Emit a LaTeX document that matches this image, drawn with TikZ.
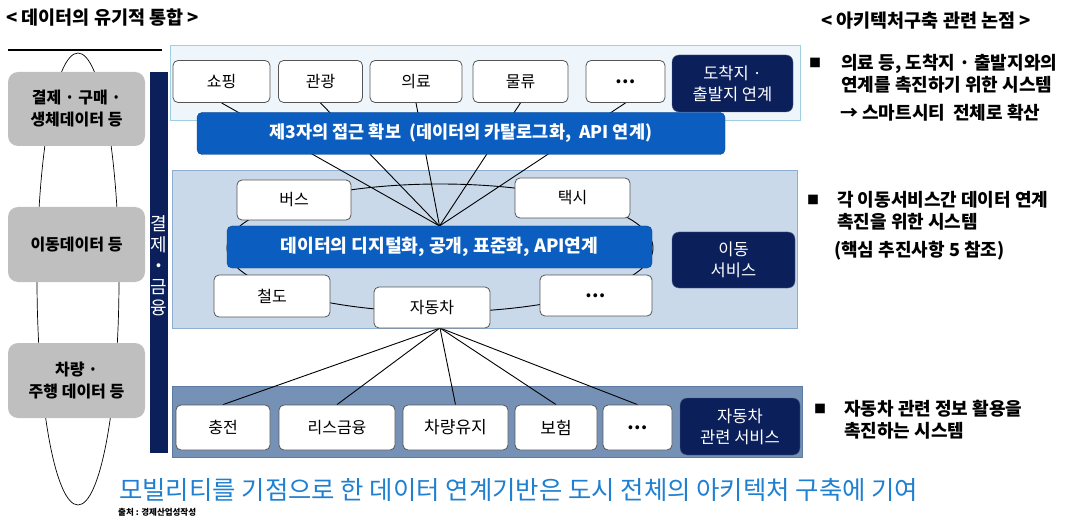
\documentclass[tikz,border=0pt]{standalone}
\usepackage{fontspec}
\setmainfont{Noto Sans CJK KR}
\pgfdeclarelayer{bands}
\pgfdeclarelayer{links}
\pgfsetlayers{bands,links,main}
\definecolor{navy}{HTML}{0B1F5B}
\definecolor{barblue}{HTML}{0B5EBF}
\definecolor{barline}{HTML}{0A3F88}
\definecolor{topband}{HTML}{EEF6FB}
\definecolor{topbandline}{HTML}{9FCFE0}
\definecolor{midband}{HTML}{C9D9EA}
\definecolor{midbandline}{HTML}{8FAFD0}
\definecolor{lowband}{HTML}{7592B6}
\definecolor{lowbandline}{HTML}{5C7AA2}
\definecolor{graybox}{HTML}{BFBFBF}
\definecolor{capblue}{HTML}{1F7FD0}
\definecolor{boxline}{HTML}{555555}
\tikzset{
  wbox/.style={draw=boxline, fill=white, rounded corners=5pt, line width=0.8pt, inner sep=0pt,
    font=\fontsize{16}{19}\selectfont},
  darkbox/.style={fill=navy, draw=navy!70!white, rounded corners=7pt, inner sep=0pt, text=white,
    align=center, font=\fontsize{16.5}{21}\selectfont},
  bluebar/.style={fill=barblue, draw=barline, rounded corners=5pt, inner sep=0pt, text=white,
    font=\bfseries\fontsize{17.5}{20}\selectfont},
  grbox/.style={fill=graybox, draw=none, rounded corners=10pt, inner sep=0pt, align=center,
    font=\bfseries\fontsize{16}{22}\selectfont},
  link/.style={draw=black, line width=0.9pt},
  note/.style={anchor=west, align=left, inner sep=0pt, font=\bfseries\fontsize{18}{22}\selectfont},
  bullet/.style={anchor=west, inner sep=0pt, font=\fontsize{12}{14}\selectfont},
  dotstxt/.style={font=\bfseries\fontsize{18}{19}\selectfont},
}
\begin{document}
\begin{tikzpicture}[x=1pt,y=-1pt]
\useasboundingbox (0,0) rectangle (1067,521);

% titles
\node[inner sep=0pt, anchor=west, font=\bfseries\fontsize{18.5}{20}\selectfont] (title1) at (6,18) {<\ 데이터의 유기적 통합 >};
\node[inner sep=0pt, font=\bfseries\fontsize{18.5}{20}\selectfont] (title2) at (926,21) {< 아키텍처구축 관련 논점 >};
\coordinate (hl1) at (8,50);
\coordinate (hl2) at (162,50);
\draw[line width=1.4pt] (hl1) -- (hl2);

% left data boxes and ellipse
\node[grbox, minimum width=137pt, minimum height=74pt] (g1) at (76.5,109) {결제 · 구매 ·\\생체데이터 등};
\node[grbox, minimum width=137pt, minimum height=75pt] (g2) at (76.5,244.5) {이동데이터 등};
\node[grbox, minimum width=137pt, minimum height=75pt] (g3) at (76.5,380.5) {차량 ·\\주행 데이터 등};
\begin{pgfonlayer}{links}
\draw[line width=0.7pt] (78,279) ellipse [x radius=41, y radius=226];
\end{pgfonlayer}

% left vertical bar
\node[fill=navy, minimum width=18pt, minimum height=381pt, inner sep=0pt] (paybar) at (159,262.5) {};
\node[text=white, align=center, inner sep=0pt, font=\fontsize{18}{21}\selectfont] (paytxt) at (159,266) {결\\제\\\textbf{·}\\금\\융};

% bands
\begin{pgfonlayer}{bands}
\draw[fill=topband, draw=topbandline, line width=0.8pt] (170,45) rectangle (800,120);
\draw[fill=midband, draw=midbandline, line width=0.8pt] (172,170) rectangle (797,328);
\draw[fill=lowband, draw=lowbandline, line width=0.8pt] (172,386) rectangle (802,457);
\end{pgfonlayer}

% top row
\node[wbox, minimum width=97pt, minimum height=42pt] (shop) at (221.5,81.5) {쇼핑};
\node[wbox, minimum width=84pt, minimum height=42pt] (tour) at (320.5,81.5) {관광};
\node[wbox, minimum width=92pt, minimum height=42pt] (med) at (416,81.5) {의료};
\node[wbox, minimum width=95pt, minimum height=42pt] (logi) at (520.5,81.5) {물류};
\node[wbox, dotstxt, minimum width=79pt, minimum height=42pt] (dots1) at (625.5,81.5) {…};
\node[darkbox, minimum width=121pt, minimum height=57pt] (arrive) at (732.5,83.5) {도착지 ·\\출발지 연계};
\node[bluebar, minimum width=528pt, minimum height=42pt] (bar1) at (461,133.5) {제3자의 접근 확보 \ (데이터의 카탈로그화, \ API 연계)};

% middle
\node[wbox, minimum width=114pt, minimum height=40pt] (bus) at (294,200) {버스};
\node[wbox, minimum width=115pt, minimum height=40pt] (taxi) at (572.5,198) {택시};
\node[bluebar, font=\bfseries\fontsize{18.2}{20}\selectfont, minimum width=425pt, minimum height=42pt] (bar2) at (439.5,247) {데이터의 디지털화, 공개, 표준화, API연계};
\node[darkbox, minimum width=123pt, minimum height=56pt] (movesvc) at (733.5,260) {이동\\서비스};
\node[wbox, minimum width=116pt, minimum height=42pt] (rail) at (272,296) {철도};
\node[wbox, minimum width=116pt, minimum height=41pt] (car) at (432,307.5) {자동차};
\node[wbox, dotstxt, minimum width=112pt, minimum height=41pt] (dots2) at (596,295.5) {…};

% bottom row
\node[wbox, minimum width=94pt, minimum height=45pt] (charge) at (223,427.5) {충전};
\node[wbox, minimum width=116pt, minimum height=45pt] (lease) at (337,427.5) {리스금융};
\node[wbox, font=\fontsize{17}{19}\selectfont, minimum width=105pt, minimum height=45pt] (maint) at (455.5,427.5) {차량유지};
\node[wbox, font=\fontsize{17}{19}\selectfont, minimum width=82pt, minimum height=45pt] (insur) at (556,427.5) {보험};
\node[wbox, dotstxt, minimum width=69pt, minimum height=45pt] (dots3) at (637.5,427.5) {…};
\node[darkbox, minimum width=120pt, minimum height=57pt] (carsvc) at (740,426.5) {자동차\\관련 서비스};

% connectors
\coordinate (hub) at (439.5,226);
\coordinate (carhub) at (440,328);
\begin{pgfonlayer}{links}
\draw[link] (440,248) ellipse [x radius=213, y radius=64];
\foreach \n in {shop,tour,med,logi,dots1} \draw[link] (\n.south) -- (hub);
\draw[link] (carhub) -- (charge.north);
\draw[link] (carhub) -- (lease.north);
\draw[link] (carhub) -- (maint.north);
\draw[link] (carhub) -- (insur.north);
\draw[link] (carhub) -- (dots3.north);
\end{pgfonlayer}

% right notes
\node[bullet] (b1) at (809,63) {■};
\node[note] (n1) at (841,74) {의료 등, 도착지 · 출발지와의\\연계를 촉진하기 위한 시스템};
\node[note] (n1b) at (840,113) {→ 스마트시티 \ 전체로 확산};
\node[bullet] (b2) at (807,200) {■};
\node[note] (n2) at (837,211) {각 이동서비스간 데이터 연계\\촉진을 위한 시스템};
\node[note] (n2b) at (834,251) {(핵심 추진사항 5 참조)};
\node[bullet] (b3) at (814,409) {■};
\node[note] (n3) at (844,420) {자동차 관련 정보 활용을\\촉진하는 시스템};

% caption
\node[anchor=west, inner sep=0pt, text=capblue, font=\fontsize{25.4}{28}\selectfont] (cap) at (119,490) {모빌리티를 기점으로 한 데이터 연계기반은 도시 전체의 아키텍처 구축에 기여};
\node[anchor=west, inner sep=0pt, font=\bfseries\fontsize{8.5}{9}\selectfont] (src) at (118,512) {출처 : 경제산업성작성};
\end{tikzpicture}
\end{document}
